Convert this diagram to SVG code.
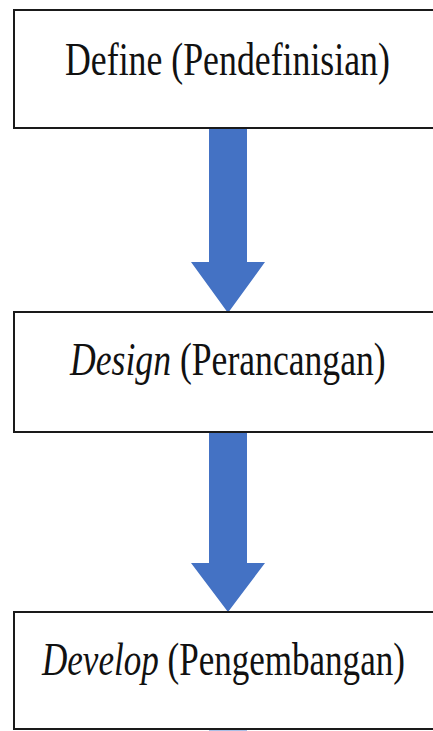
<svg xmlns="http://www.w3.org/2000/svg" width="433" height="731" viewBox="0 0 433 731">
<style>
.box{fill:#ffffff;stroke:#1a1a1a;stroke-width:2}
.lbl{font-family:"Liberation Serif","Times New Roman",serif;font-size:46px;fill:#111111}
.it{font-style:italic}
.arr{fill:#4472C4}
</style>
<rect width="433" height="731" fill="#ffffff"/>
<g id="connectors">
<path class="arr" d="M209,128 H247 V262 H265 L228,313 L191,262 H209 Z"/>
<path class="arr" d="M209,432 H247 V563 H265 L228,612 L191,563 H209 Z"/>
</g>
<g id="node-define">
<rect class="box" x="14" y="10" width="440" height="118"/>
<text class="lbl" transform="translate(65,75) scale(0.778,1)" x="0" y="0">Define (Pendefinisian)</text>
</g>
<g id="node-design">
<rect class="box" x="14" y="312" width="440" height="120"/>
<text class="lbl" transform="translate(70,375) scale(0.775,1)" x="0" y="0"><tspan class="it">Design</tspan> (Perancangan)</text>
</g>
<g id="node-develop">
<rect class="box" x="14" y="612" width="440" height="117"/>
<text class="lbl" transform="translate(42,675) scale(0.762,1)" x="0" y="0"><tspan class="it">Develop</tspan> (Pengembangan)</text>
</g>
<rect x="209" y="730" width="38" height="1" fill="#a9bfe6"/>
</svg>
